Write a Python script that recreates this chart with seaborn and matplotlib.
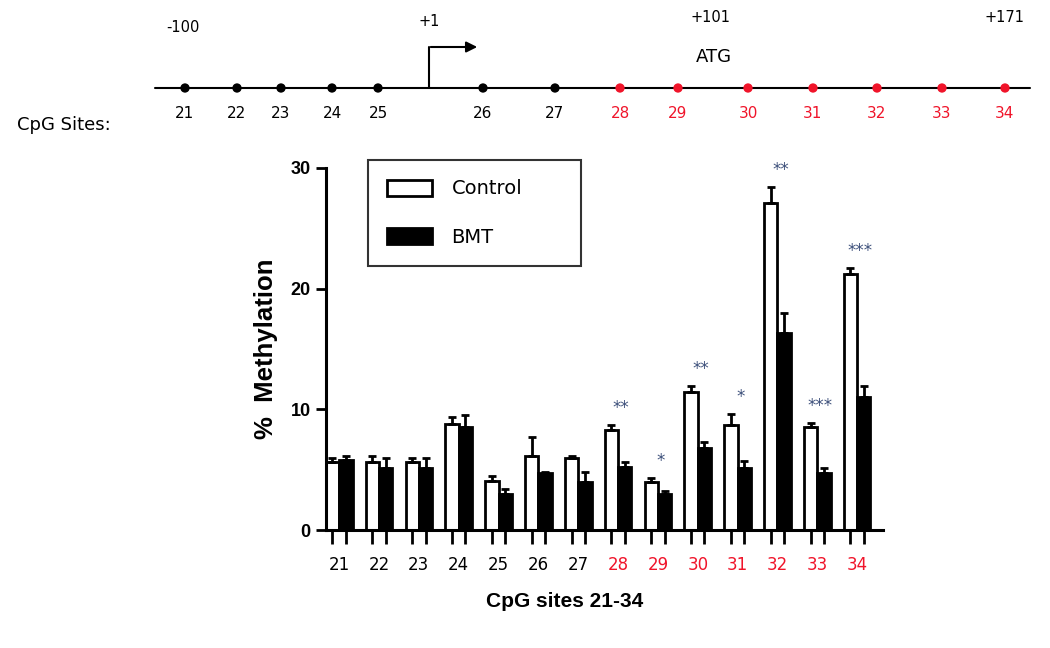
import numpy as np
import pandas as pd
import matplotlib
matplotlib.use("Agg")
import matplotlib.pyplot as plt
import seaborn as sns

# CpG sites and % methylation (mean, upper SEM)
sites = ["21", "22", "23", "24", "25", "26", "27", "28", "29", "30", "31", "32", "33", "34"]
control = [5.6, 5.6, 5.6, 8.8, 4.1, 6.1, 6.0, 8.3, 4.0, 11.4, 8.7, 27.1, 8.5, 21.2]
control_err = [0.4, 0.5, 0.4, 0.6, 0.4, 1.6, 0.1, 0.4, 0.3, 0.5, 0.9, 1.3, 0.4, 0.5]
bmt = [5.8, 5.1, 5.1, 8.5, 3.0, 4.7, 4.0, 5.2, 3.0, 6.8, 5.1, 16.3, 4.7, 11.0]
bmt_err = [0.3, 0.9, 0.9, 1.0, 0.4, 0.1, 0.8, 0.4, 0.2, 0.5, 0.6, 1.7, 0.4, 0.9]
stars = ["", "", "", "", "", "", "", "**", "*", "**", "*", "**", "***", "***"]
red_sites = ["28", "29", "30", "31", "32", "33", "34"]

# schematic positions of the sites along the gene map (not to scale)
map_x = [185, 237, 281, 332, 378, 483, 555, 620, 678, 748, 813, 877, 942, 1005]
landmarks = ["-100", "+1", "+101", "+171"]
landmark_x = [183, 429, 710, 1004]
landmark_y = [28, 22, 17, 17]

RED = "#f0142a"
STAR = "#3c4f7a"

df = pd.DataFrame({
    "site": sites * 2,
    "group": ["Control"] * len(sites) + ["BMT"] * len(sites),
    "value": control + bmt,
})

sns.set_style("ticks")
plt.rcParams["font.family"] = ["DejaVu Sans"]
plt.rcParams.update({"text.color": "black", "axes.labelcolor": "black",
                     "xtick.color": "black", "ytick.color": "black",
                     "axes.edgecolor": "black"})

fig = plt.figure(figsize=(10.5, 6.48), dpi=100)

# ---- gene map on top ----
top = fig.add_axes([0, 0, 1, 1])
top.set_xlim(0, 1050)
top.set_ylim(648, 0)
top.axis("off")
top.plot([155, 1030], [88, 88], color="black", lw=1.5, zorder=1)
site_colors = [RED if s in red_sites else "black" for s in sites]
sns.scatterplot(x=map_x, y=[88] * len(map_x), hue=sites, palette=dict(zip(sites, site_colors)),
                s=45, edgecolor="none", legend=False, ax=top, zorder=3)
for s, x, c in zip(sites, map_x, site_colors):
    top.text(x, 113, s, color=c, fontsize=11, ha="center", va="center")
for t, x, y in zip(landmarks, landmark_x, landmark_y):
    top.text(x, y, t, fontsize=10.5, ha="center", va="center")
top.text(714, 57, "ATG", fontsize=13, ha="center", va="center")
top.plot([429, 429], [88, 47], color="black", lw=1.5)
top.annotate("", xy=(480, 47), xytext=(428, 47),
             arrowprops=dict(arrowstyle="-|>", color="black", lw=1.5, mutation_scale=16))
top.text(17, 125, "CpG Sites:", fontsize=13, ha="left", va="center")

# ---- bar chart ----
ax = fig.add_axes([0.3105, 0.182, 0.5305, 0.559])
sns.barplot(data=df, x="site", y="value", hue="group", hue_order=["Control", "BMT"],
            palette={"Control": "white", "BMT": "black"}, edgecolor="black",
            linewidth=2.0, width=0.67, errorbar=None, ax=ax)

centers = []
for cont, errs in zip(ax.containers, [control_err, bmt_err]):
    xs = [b.get_x() + b.get_width() / 2 for b in cont]
    ys = [b.get_height() for b in cont]
    centers += xs
    ax.errorbar(xs, ys, yerr=[np.zeros(len(errs)), errs], fmt="none", ecolor="black",
                elinewidth=2, capsize=3, capthick=2, zorder=1)

for i, s in enumerate(stars):
    if s:
        y = max(control[i] + control_err[i], bmt[i] + bmt_err[i]) + 1.0
        ax.text(i + 0.08, y, s, color=STAR, fontsize=12, ha="center", va="baseline",
                clip_on=False)

ax.set_xlim(-0.33, 13.65)
ax.set_ylim(0, 30)
ax.set_yticks([0, 10, 20, 30])
ax.set_yticklabels(["0", "10", "20", "30"], fontsize=13, fontweight="bold",
                   family="Liberation Sans")
ax.set_xticks(sorted(centers))
ax.set_xticklabels([])
ax.set_xticks(range(len(sites)), labels=sites, minor=True)
ax.tick_params(axis="x", which="major", length=10, width=2, direction="out")
ax.tick_params(axis="x", which="minor", length=0, pad=19, labelsize=12)
ax.tick_params(axis="y", length=7, width=2, pad=4)
for lab in ax.get_xticklabels(minor=True):
    lab.set_color(RED if lab.get_text() in red_sites else "black")

for side in ["top", "right"]:
    ax.spines[side].set_visible(False)
for side in ["left", "bottom"]:
    ax.spines[side].set_linewidth(2.2)

ax.set_ylabel("%  Methylation", fontsize=18.5, fontweight="bold", family="Liberation Sans",
              labelpad=9)
ax.set_xlabel("CpG sites 21-34", fontsize=15, fontweight="bold", family="Liberation Sans")
ax.xaxis.set_label_coords(0.429, -0.171)

handles, labels = ax.get_legend_handles_labels()
leg = ax.legend(handles, labels, loc="upper left",
                bbox_to_anchor=(368 / 1050, 1 - 268 / 648, 213 / 1050, 108 / 648),
                bbox_transform=fig.transFigure, mode="expand", fontsize=14, frameon=True,
                fancybox=False, edgecolor="black", handlelength=2.3, handleheight=0.9,
                labelspacing=1.5, borderpad=1.0, handletextpad=1.0, borderaxespad=0)
leg.get_frame().set_linewidth(1.5)
for h in leg.legend_handles:
    h.set_edgecolor("black")
    h.set_linewidth(2)

fig.savefig("out.png", dpi=100)
